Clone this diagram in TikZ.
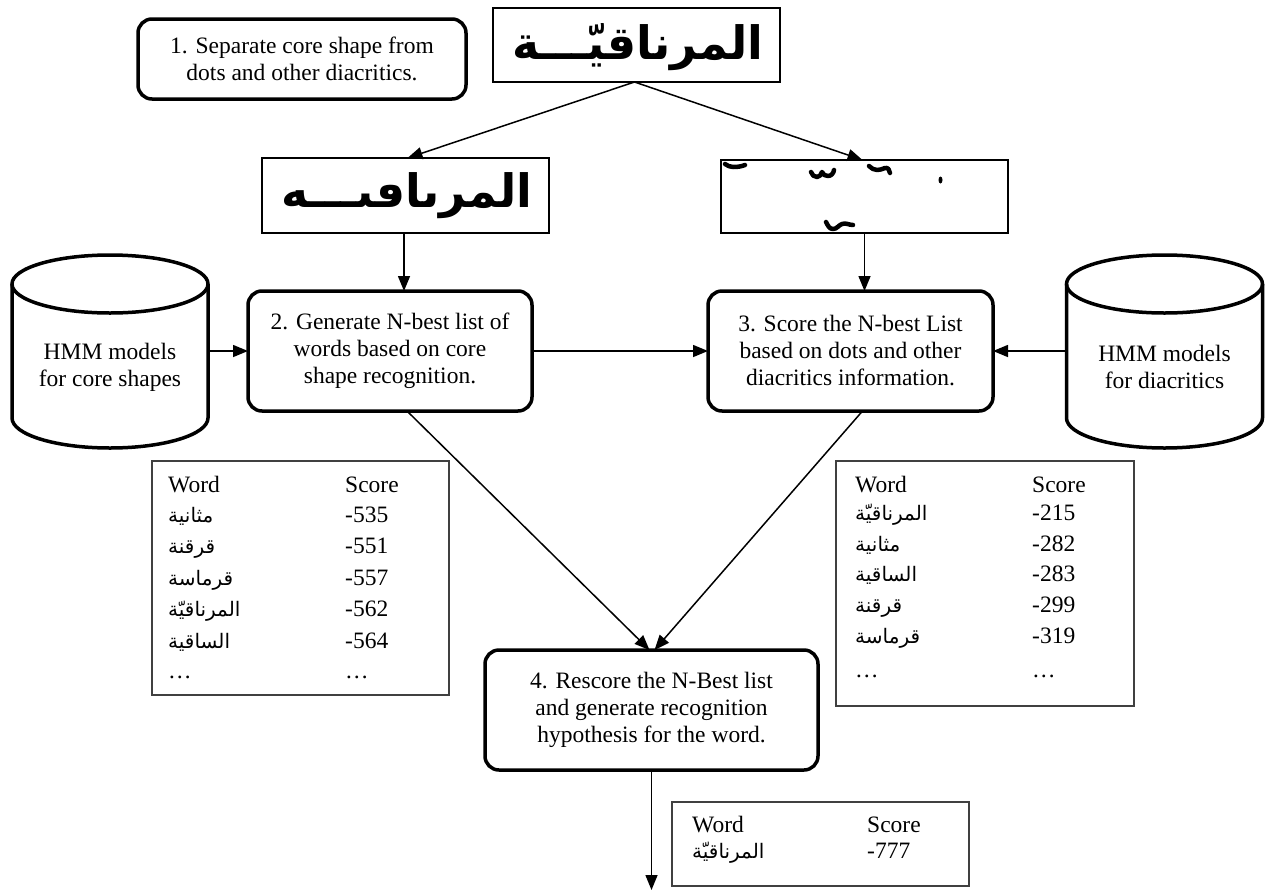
\documentclass[tikz,border=0pt]{standalone}
\usepackage{fontspec}
\setmainfont{Liberation Serif}
\newfontfamily\arabicfont[Script=Arabic]{DejaVu Sans}
\TeXXeTstate=1
\usetikzlibrary{arrows.meta}
\newcommand\artext[1]{{\arabicfont\beginR #1\endR}}
\begin{document}
\begin{tikzpicture}[x=1pt,y=1pt,
  stepbox/.style={draw, line width=3.5pt, rounded corners=14pt, align=center,
    font=\fontsize{23.5}{27}\selectfont, inner sep=0pt, outer sep=0pt},
  imgbox/.style={draw, line width=2pt, inner sep=0pt, outer sep=0pt, minimum width=287pt},
  tbl/.style={draw=black!75, line width=1.3pt, inner sep=0pt},
  cyltext/.style={align=center, font=\fontsize{23.5}{27}\selectfont, inner sep=0pt, outer sep=0pt,
    minimum width=196pt, minimum height=60pt},
  cyl/.style={line width=3.5pt},
  arr/.style={-{Triangle[length=15pt,width=12pt]}, line width=1.5pt},
  cell/.style={anchor=base west, inner sep=0pt, font=\fontsize{23.5}{27}\selectfont},
  arcell/.style={anchor=base west, inner sep=0pt, font=\fontsize{20}{22}\selectfont},
  hand/.style={inner sep=0pt, font=\fontsize{46}{48}\selectfont\bfseries},
  blob/.style={line width=4.5pt, line cap=round, line join=round}
]
\useasboundingbox (0,0) rectangle (1269,-892);

% step boxes
\node[stepbox, minimum width=328pt, minimum height=80pt] (s1) at (302,-59)
  {1. Separate core shape from\\dots and other diacritics.};
\node[stepbox, minimum width=284pt, minimum height=120pt] (s2) at (390,-351)
  {2. Generate N-best list of\\words based on core\\shape recognition.};
\node[stepbox, minimum width=285pt, minimum height=120pt] (s3) at (850.5,-351)
  {3. Score the N-best List\\based on dots and other\\diacritics information.};
\node[stepbox, minimum width=333pt, minimum height=120pt] (s4) at (651.5,-710)
  {4. Rescore the N-Best list\\and generate recognition\\hypothesis for the word.};

% image boxes
\node[imgbox, minimum height=74pt] (top) at (636.5,-45) {};
\node[hand] (topw) at (638,-47) {\artext{المرناقيّـــة}};
\node[imgbox, minimum height=75pt] (limg) at (405.5,-195.5) {};
\node[hand] (limgw) at (407,-196) {\artext{المرٮاٯٮـــه}};
\node[imgbox, minimum height=73pt] (rimg) at (864.5,-196.5) {};
% diacritic blobs
\draw[blob] (725,-164) to[out=-30,in=180] (733,-167) to[out=0,in=200] (745,-165);
\draw[blob] (811,-172) to[out=-70,in=180] (817,-177) to[out=0,in=-110] (822,-172)
  to[out=-70,in=180] (828,-176) to[out=0,in=-100] (834,-170);
\draw[blob] (869,-166) to[out=-40,in=180] (877,-170) to[out=0,in=200] (885,-168)
  to[out=20,in=90] (890,-173);
\fill (940.5,-180) ellipse (2pt and 3.5pt);
\draw[blob] (826,-222) to[out=-60,in=180] (833,-229) to[out=0,in=200] (842,-224)
  to[out=20,in=180] (853,-225);

% cylinders
\draw[cyl] (110,-284) ellipse (98 and 29);
\draw[cyl] (12,-284) -- (12,-418) arc (180:360:98 and 30) -- (208,-284);
\node[cyltext] (cylL) at (110,-367) {HMM models\\for core shapes};
\draw[cyl] (1164.5,-284) ellipse (98 and 29);
\draw[cyl] (1066.5,-284) -- (1066.5,-418) arc (180:360:98 and 30) -- (1262.5,-284);
\node[cyltext] (cylR) at (1164.5,-367) {HMM models\\for diacritics};

% connectors
\draw[arr] ([xshift=-2pt]top.south) -- ([xshift=2pt]limg.north);
\draw[arr] ([xshift=-2pt]top.south) -- ([xshift=-2pt]rimg.north);
\draw[arr] ([xshift=-1.5pt]limg.south) -- ([xshift=-1.5pt]limg.south |- s2.north);
\draw[arr] (rimg.south) -- (rimg.south |- s3.north);
\draw[arr] (cylL.east |- s2.west) -- (s2.west);
\draw[arr] (s2.east) -- (s3.west);
\draw[arr] (cylR.west |- s3.east) -- (s3.east);
\draw[arr] ([xshift=17pt]s2.south) -- ([xshift=-2pt]s4.north);
\draw[arr] ([xshift=12pt]s3.south) -- ([xshift=3pt]s4.north);
\coordinate (out) at (651.5,-890);
\draw[arr] (s4.south) -- (out);

% left table
\node[tbl, minimum width=297pt, minimum height=234pt] (tabL) at (300.5,-578) {};
\node[cell] (lw) at (168,-492) {Word};
\node[cell] (ls) at (345,-492) {Score};
\node[arcell] (la1) at (168,-522) {\artext{مثانية}};
\node[cell] (ls1) at (345,-522) {-535};
\node[arcell] (la2) at (168,-553.5) {\artext{قرقنة}};
\node[cell] (ls2) at (345,-553.5) {-551};
\node[arcell] (la3) at (168,-585) {\artext{قرماسة}};
\node[cell] (ls3) at (345,-585) {-557};
\node[arcell] (la4) at (168,-616.5) {\artext{المرناقيّة}};
\node[cell] (ls4) at (345,-616.5) {-562};
\node[arcell] (la5) at (168,-648) {\artext{الساقية}};
\node[cell] (ls5) at (345,-648) {-564};
\node[cell] (la6) at (168,-678) {\dots};
\node[cell] (ls6) at (345,-678) {\dots};

% right table
\node[tbl, minimum width=298pt, minimum height=245pt] (tabR) at (985,-583.5) {};
\node[cell] (rw) at (855,-492) {Word};
\node[cell] (rs) at (1032,-492) {Score};
\node[arcell] (ra1) at (855,-520) {\artext{المرناقيّة}};
\node[cell] (rs1) at (1032,-520) {-215};
\node[arcell] (ra2) at (855,-551) {\artext{مثانية}};
\node[cell] (rs2) at (1032,-551) {-282};
\node[arcell] (ra3) at (855,-581.5) {\artext{الساقية}};
\node[cell] (rs3) at (1032,-581.5) {-283};
\node[arcell] (ra4) at (855,-612) {\artext{قرقنة}};
\node[cell] (rs4) at (1032,-612) {-299};
\node[arcell] (ra5) at (855,-643) {\artext{قرماسة}};
\node[cell] (rs5) at (1032,-643) {-319};
\node[cell] (ra6) at (855,-677) {\dots};
\node[cell] (rs6) at (1032,-677) {\dots};

% bottom table
\node[tbl, minimum width=297pt, minimum height=84pt] (tabB) at (820.5,-844) {};
\node[cell] (bw) at (692,-832) {Word};
\node[cell] (bs) at (867,-832) {Score};
\node[arcell] (ba1) at (692,-858) {\artext{المرناقيّة}};
\node[cell] (bs1) at (867,-858) {-777};
\end{tikzpicture}
\end{document}
